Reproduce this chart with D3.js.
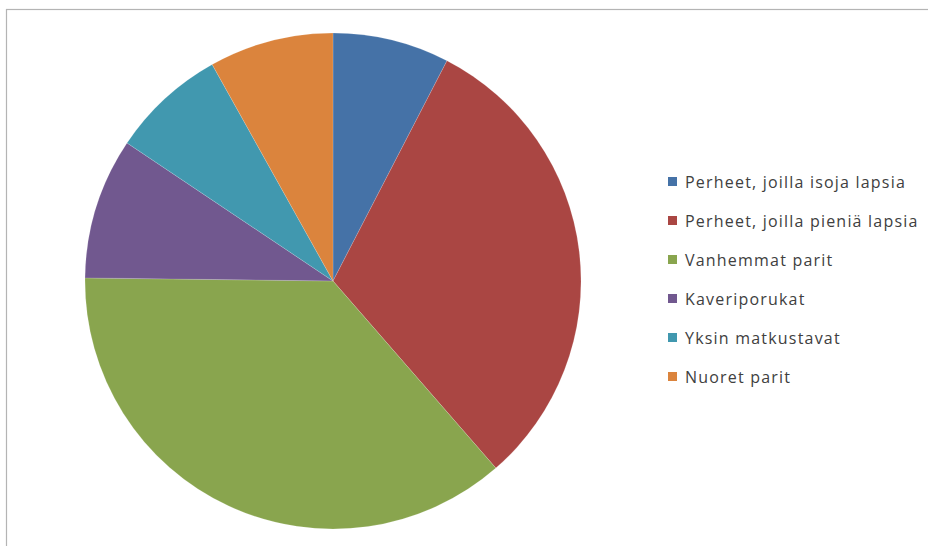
<!DOCTYPE html>
<html>
<head>
<meta charset="utf-8">
<script src="https://cdn.jsdelivr.net/npm/d3@7"></script>
<style>
  html, body { margin: 0; padding: 0; background: #fff; }
  svg { display: block; }
</style>
</head>
<body>
<svg id="chart" width="928" height="546"></svg>
<script>
// Matkailijaryhmien osuudet (%)
const categories = [
  "Perheet, joilla isoja lapsia",
  "Perheet, joilla pieniä lapsia",
  "Vanhemmat parit",
  "Kaveriporukat",
  "Yksin matkustavat",
  "Nuoret parit"
];
const values = [7.6, 31.0, 36.6, 9.2, 7.5, 8.1];
const colors = ["#4572A7", "#AA4643", "#89A54E", "#71588F", "#4198AF", "#DB843D"];

const svg = d3.select("#chart");

// Chart area frame
svg.append("rect")
  .attr("x", 6.5).attr("y", 9.5)
  .attr("width", 940).attr("height", 560)
  .attr("fill", "#fff")
  .attr("stroke", "#b4b4b4")
  .attr("stroke-width", 1.2);

const cx = 333, cy = 281, r = 248;

const pie = d3.pie().value(d => d).sort(null);
const arc = d3.arc().innerRadius(0).outerRadius(r);
const color = d3.scaleOrdinal().domain(categories).range(colors);

const g = svg.append("g").attr("transform", `translate(${cx},${cy})`);
g.selectAll("path")
  .data(pie(values))
  .join("path")
  .attr("d", arc)
  .attr("fill", (d, i) => color(categories[i]))
  .attr("stroke", "rgba(255,255,255,0.25)")
  .attr("stroke-width", 0.6);

// Legend
const legend = svg.append("g").attr("transform", "translate(668,182)");
const rows = legend.selectAll("g")
  .data(categories)
  .join("g")
  .attr("transform", (d, i) => `translate(0,${i * 39})`);
rows.append("rect")
  .attr("x", 0).attr("y", -5)
  .attr("width", 9).attr("height", 9)
  .attr("fill", d => color(d));
rows.append("text")
  .attr("x", 17).attr("y", 0)
  .attr("dy", "0.36em")
  .attr("font-family", "'Open Sans', 'Noto Sans', sans-serif")
  .attr("font-size", 16)
  .attr("letter-spacing", 1.2)
  .attr("fill", "#404040")
  .text(d => d);
</script>
</body>
</html>
